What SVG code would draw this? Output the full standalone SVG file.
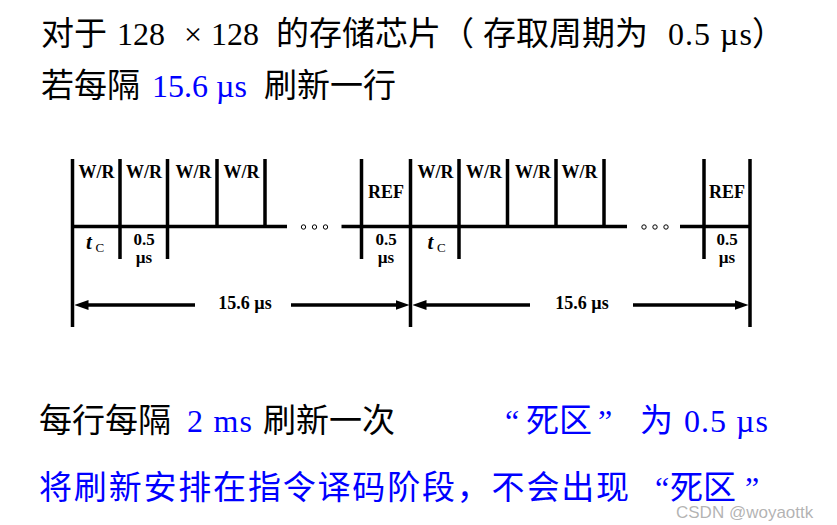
<svg xmlns="http://www.w3.org/2000/svg" width="837" height="525" viewBox="0 0 837 525">
<style>
.ln{stroke:#000;stroke-width:3.5;fill:none;stroke-linecap:butt}
.dot{stroke:#000;stroke-width:1;fill:none}
.lbl{font-family:'Liberation Serif',serif;font-weight:bold;font-size:18px;text-anchor:middle;fill:#000}
.sm{font-family:'Liberation Serif',serif;font-weight:bold;font-size:17px;text-anchor:middle;fill:#000}
.dim{font-family:'Liberation Serif',serif;font-weight:bold;font-size:18px;text-anchor:middle;fill:#000}
.lat{font-family:'Liberation Serif','Noto Sans CJK SC',serif;font-size:32px;fill:#000}
.cjk{font-family:'Noto Sans CJK SC',sans-serif;font-size:33px;fill:#000}
.blue{fill:#0000ff}
.wm{font-family:'Liberation Sans',Arial,sans-serif;font-size:17px;fill:#9a9a9a;fill-opacity:0.75}
</style>
<defs>
<marker id="ah" markerWidth="14" markerHeight="10" refX="4" refY="5" orient="auto-start-reverse" markerUnits="userSpaceOnUse">
<path d="M0,0 L14,5 L0,10 z" fill="#000"/>
</marker>
</defs>
<rect width="837" height="525" fill="#fff"/>

<g id="heading">
<text class="cjk" x="41" y="45">对于</text>
<text class="lat" x="117" y="45">128</text>
<text class="lat" x="184" y="45">×</text>
<text class="lat" x="211" y="45">128</text>
<text class="cjk" x="276" y="45">的存储芯片</text>
<text class="cjk" x="441" y="45">（</text>
<text class="cjk" x="483" y="45">存取周期为</text>
<text class="lat" x="668" y="45" textLength="84" lengthAdjust="spacing">0.5 µs</text>
<text class="cjk" x="752" y="45">）</text>
<text class="cjk" x="41" y="97">若每隔</text>
<text class="lat blue" x="152" y="97">15.6 µs</text>
<text class="cjk" x="264" y="97">刷新一行</text>
</g>

<g id="grid">
<path class="ln" d="M72.5,159V327 M410.5,159V327 M750,159V327"/>
<path class="ln" d="M120,159V259 M167.5,159V259 M361.5,159V259 M459,159V259 M704,159V259"/>
<path class="ln" d="M217,159V227 M265,159V227 M507.5,159V227 M556,159V227 M604,159V227"/>
<path class="ln" d="M72.5,226.5H287 M341.5,226.5H627 M680,226.5H750"/>
<circle class="dot" cx="303.5" cy="227" r="2.2"/>
<circle class="dot" cx="314.5" cy="227" r="2.2"/>
<circle class="dot" cx="325.5" cy="227" r="2.2"/>
<circle class="dot" cx="644" cy="227" r="2.2"/>
<circle class="dot" cx="655" cy="227" r="2.2"/>
<circle class="dot" cx="666" cy="227" r="2.2"/>
</g>

<g id="slot-wr-1"><text class="lbl" x="96.5" y="178">W/R</text></g>
<g id="slot-wr-2"><text class="lbl" x="144" y="178">W/R</text></g>
<g id="slot-wr-3"><text class="lbl" x="193.5" y="178">W/R</text></g>
<g id="slot-wr-4"><text class="lbl" x="241.5" y="178">W/R</text></g>
<g id="slot-ref-1"><text class="lbl" x="386" y="198">REF</text></g>
<g id="slot-wr-5"><text class="lbl" x="435.5" y="178">W/R</text></g>
<g id="slot-wr-6"><text class="lbl" x="484" y="178">W/R</text></g>
<g id="slot-wr-7"><text class="lbl" x="533" y="178">W/R</text></g>
<g id="slot-wr-8"><text class="lbl" x="579.5" y="178">W/R</text></g>
<g id="slot-ref-2"><text class="lbl" x="727" y="198">REF</text></g>

<g id="tc-1"><text font-family="'Liberation Serif',serif" font-style="italic" font-weight="bold" font-size="21" x="86" y="249">t</text><text font-family="'Liberation Serif',serif" font-size="13" x="95.5" y="252">C</text></g>
<g id="tc-2"><text font-family="'Liberation Serif',serif" font-style="italic" font-weight="bold" font-size="21" x="427.5" y="249">t</text><text font-family="'Liberation Serif',serif" font-size="13" x="437" y="252">C</text></g>
<g id="dur-1"><text class="sm" x="144" y="245">0.5</text><text class="sm" x="144" y="263" font-size="16">µs</text></g>
<g id="dur-2"><text class="sm" x="386" y="245">0.5</text><text class="sm" x="386" y="263" font-size="16">µs</text></g>
<g id="dur-3"><text class="sm" x="727" y="245">0.5</text><text class="sm" x="727" y="263" font-size="16">µs</text></g>

<g id="connectors">
<path class="ln" d="M84.5,305H195" marker-start="url(#ah)"/>
<path class="ln" d="M291,305H399.5" marker-end="url(#ah)"/>
<path class="ln" d="M422.5,305H530" marker-start="url(#ah)"/>
<path class="ln" d="M633,305H738.5" marker-end="url(#ah)"/>
</g>
<g id="period-1"><text class="dim" x="245" y="309">15.6 µs</text></g>
<g id="period-2"><text class="dim" x="582" y="309">15.6 µs</text></g>

<g id="notes">
<text class="cjk" x="39" y="432">每行每隔</text>
<text class="lat blue" x="187" y="432" textLength="65" lengthAdjust="spacing">2 ms</text>
<text class="cjk" x="263" y="432">刷新一次</text>
<text class="lat blue" x="505" y="432">“</text>
<text class="cjk blue" x="526" y="432">死区</text>
<text class="lat blue" x="598" y="432">”</text>
<text class="cjk blue" x="640" y="432">为</text>
<text class="lat blue" x="684" y="432" textLength="84" lengthAdjust="spacing">0.5 µs</text>
<text class="cjk blue" x="39" y="499" textLength="590" lengthAdjust="spacing">将刷新安排在指令译码阶段，不会出现</text>
<text class="lat blue" x="655" y="499">“</text>
<text class="cjk blue" x="670" y="499">死区</text>
<text class="lat blue" x="745" y="499">”</text>
</g>
<text class="wm" x="676" y="518">CSDN @woyaottk</text>
</svg>
